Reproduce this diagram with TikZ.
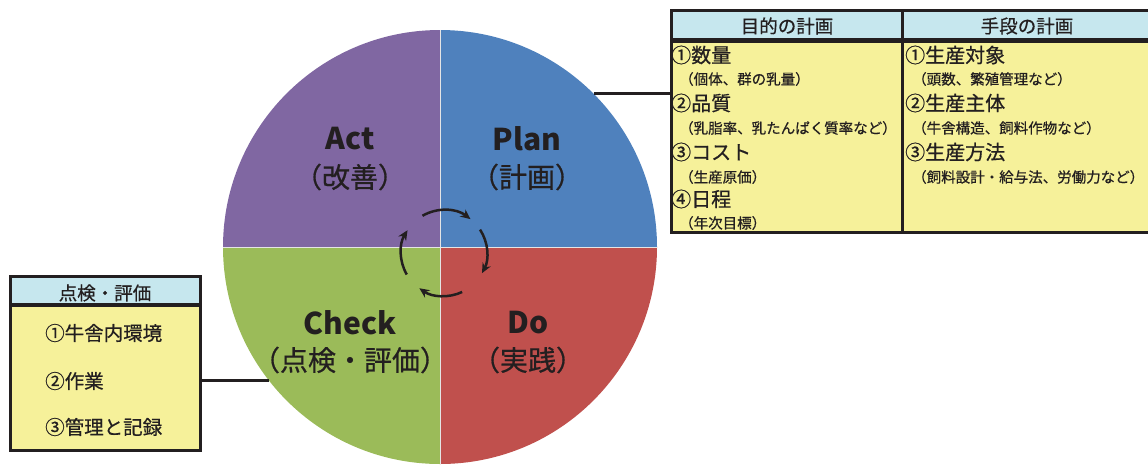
\documentclass[tikz,border=0pt]{standalone}
\usepackage{fontspec}
\setmainfont{Noto Sans CJK JP}
\newfontfamily\jpm{Noto Sans CJK JP}[FakeBold=0.6]
\usetikzlibrary{arrows.meta}
\definecolor{cplan}{HTML}{4F81BD}
\definecolor{cdo}{HTML}{C0504D}
\definecolor{ccheck}{HTML}{9BBB59}
\definecolor{cact}{HTML}{8067A2}
\definecolor{ink}{HTML}{231F20}
\definecolor{hdfill}{HTML}{C6E7EE}
\definecolor{bodyfill}{HTML}{F6F19A}
\begin{document}
\begin{tikzpicture}[x=1pt,y=-1pt,
  lat/.style={font=\bfseries\fontsize{30}{32}\selectfont, text=ink, inner sep=0},
  jbig/.style={font=\jpm\fontsize{28}{30}\selectfont, text=ink, inner sep=0},
  hd/.style={font=\jpm\fontsize{18.5}{20}\selectfont, text=ink, inner sep=0},
  item/.style={font=\jpm\fontsize{20}{22}\selectfont, text=ink, anchor=west, inner sep=0},
  subitem/.style={font=\jpm\fontsize{14.5}{16}\selectfont, text=ink, anchor=west, inner sep=0},
  citem/.style={font=\jpm\fontsize{19.5}{21}\selectfont, text=ink, anchor=west, inner sep=0},
  frame/.style={draw=ink, line width=3pt},
  conn/.style={draw=ink, line width=2.5pt},
  cyc/.style={draw=ink, line width=2.5pt, -{Stealth[length=10pt,width=9pt]}}
]
\useasboundingbox (0,0) rectangle (1148,464);

% PDCA circle
\coordinate (c) at (440,247);
\node[circle, minimum size=434pt, inner sep=0, draw=none] (pdca) at (c) {};
\fill[cplan] (c) -- +(0:217) arc[start angle=0, end angle=-90, radius=217] -- cycle;
\fill[cact] (c) -- +(-90:217) arc[start angle=-90, end angle=-180, radius=217] -- cycle;
\fill[ccheck] (c) -- +(180:217) arc[start angle=180, end angle=90, radius=217] -- cycle;
\fill[cdo] (c) -- +(90:217) arc[start angle=90, end angle=0, radius=217] -- cycle;
\draw[white!80!gray, line width=0.8pt] (pdca.north) -- (pdca.south) (pdca.west) -- (pdca.east);

% quadrant labels
\node[lat] (plan) at (527,139) {Plan};
\node[jbig] (planj) at (527,177) {（計画）};
\node[lat] (act) at (350,139) {Act};
\node[jbig] (actj) at (350,177) {（改善）};
\node[lat] (check) at (350,323) {Check};
\node[jbig] (checkj) at (350,360) {（点検・評価）};
\node[lat] (do) at (528,323) {Do};
\node[jbig] (doj) at (528,360) {（実践）};

% cycle arrows
\coordinate (cc) at (444,253);
\draw[cyc] ([shift={(-120:43)}]cc) arc[start angle=-120, end angle=-52, radius=43];
\draw[cyc] ([shift={(-33:43)}]cc) arc[start angle=-33, end angle=28, radius=43];
\draw[cyc] ([shift={(65:43)}]cc) arc[start angle=65, end angle=125, radius=43];
\draw[cyc] ([shift={(150:43)}]cc) arc[start angle=150, end angle=212, radius=43];

% Plan table
\node[anchor=north west, minimum width=480pt, minimum height=223pt, inner sep=0] (plantab) at (671,10) {};
\fill[hdfill] (671,10) rectangle (1150,41);
\fill[bodyfill] (671,41) rectangle (1150,233);
\draw[frame] (1150,10.5) -- (671,10.5) -- (671,232.5) -- (1150,232.5);
\draw[draw=ink, line width=4.5pt] (671,40.5) -- (1150,40.5);
\draw[frame] (902,10) -- (902,233);

\node[hd] (h1) at (787,26) {目的の計画};
\node[hd] (h2) at (1027,26) {手段の計画};

\node[item] (a1) at (671,55) {①数量};
\node[subitem] (a1s) at (679,79) {（個体、群の乳量）};
\node[item] (a2) at (671,103) {②品質};
\node[subitem] (a2s) at (679,128) {（乳脂率、乳たんぱく質率など）};
\node[item] (a3) at (671,152) {③コスト};
\node[subitem] (a3s) at (679,177) {（生産原価）};
\node[item] (a4) at (671,199) {④日程};
\node[subitem] (a4s) at (679,223) {（年次目標）};

\node[item] (b1) at (905,55) {①生産対象};
\node[subitem] (b1s) at (912,79) {（頭数、繁殖管理など）};
\node[item] (b2) at (905,103) {②生産主体};
\node[subitem] (b2s) at (912,128) {（牛舎構造、飼料作物など）};
\node[item] (b3) at (905,152) {③生産方法};
\node[subitem] (b3s) at (912,177) {（飼料設計・給与法、労働力など）};

% Check box
\node[anchor=north west, minimum width=190pt, minimum height=174pt, inner sep=0] (chkbox) at (10,276.5) {};
\fill[hdfill] (chkbox.north west) rectangle (200,306);
\fill[bodyfill] (10,306) rectangle (200,450);
\draw[frame] (chkbox.north west) rectangle (chkbox.south east);
\draw[draw=ink, line width=4pt] (10,305) -- (200,305);
\node[hd] (ch) at (105,293) {点検・評価};
\node[citem] (c1) at (45,333) {①牛舎内環境};
\node[citem] (c2) at (45,381) {②作業};
\node[citem] (c3) at (45,427) {③管理と記録};

% connectors
\draw[conn] (pdca.45.6) -- (pdca.45.6 -| plantab.west);
\draw[conn] (pdca.218.1) -- (pdca.218.1 -| chkbox.east);
\end{tikzpicture}
\end{document}
